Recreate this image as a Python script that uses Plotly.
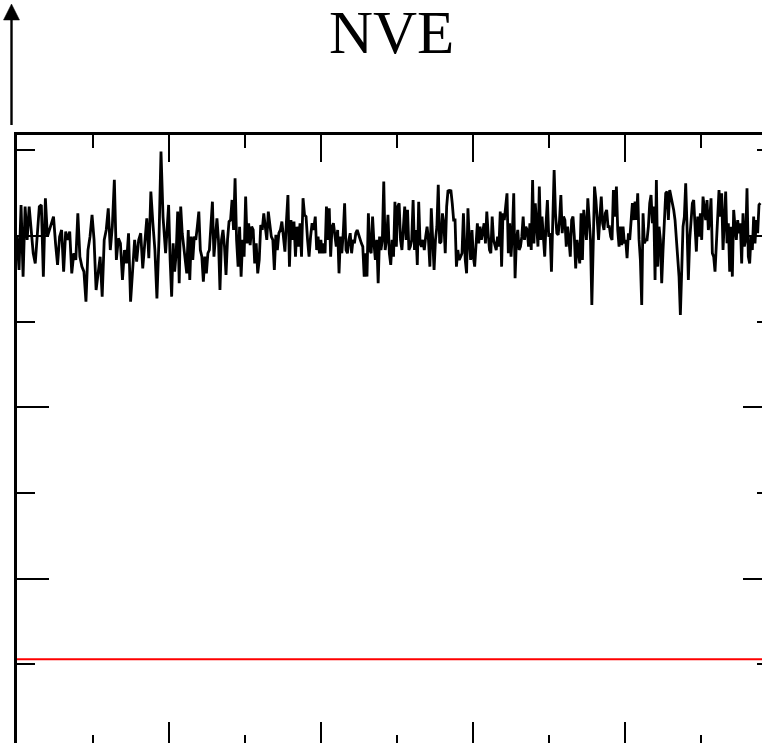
import numpy as np
import plotly.graph_objects as go

# ---- data (energy trace, 5 consecutive time windows) ----
seg_windows = [(0, 960), (977, 1950), (1961, 2935), (2947, 3921), (3932, 4887)]

seg1 = [299.6, 280.2, 318.1, 276.3, 317.1, 297.7, 317.1, 301.6, 289.9, 284.0,
        303.5, 317.1, 318.1, 276.3, 322.0, 299.6, 303.5, 307.4, 311.3, 295.7,
        283.1, 299.6, 303.5, 279.2, 302.5, 297.7, 302.5, 278.2, 289.9, 286.0,
        313.2, 287.9, 282.1, 279.2, 261.7, 291.8, 299.6, 312.3, 297.7, 268.5,
        278.2, 287.9, 264.6, 297.7, 303.5, 316.1, 291.8, 305.4, 332.7, 286.0,
        298.6, 295.7, 274.3, 291.8, 284.0, 301.6, 261.7, 280.2, 297.7, 285.0,
        297.7, 301.6, 281.1, 295.7, 310.3, 287.0, 325.9, 307.4, 291.8, 263.6,
        297.7, 349.2, 311.3]

seg2 = [289.9, 305.4, 318.1, 286.0, 264.6, 295.7, 279.2, 289.9, 314.2, 272.4,
        317.1, 301.6, 293.8, 282.1, 278.2, 303.5, 274.3, 299.6, 286.0, 299.6,
        297.7, 305.4, 314.2, 291.8, 287.9, 273.3, 287.9, 278.2, 289.9, 291.8,
        303.5, 320.0, 287.9, 297.7, 310.3, 297.7, 268.5, 297.7, 303.5, 293.8,
        277.2, 297.7, 308.4, 309.3, 321.0, 303.5, 333.7, 297.7, 282.1, 305.4,
        276.3, 297.7, 287.9, 323.0, 295.7, 307.4, 294.7, 305.4, 303.5, 284.0,
        295.7, 278.2, 286.0, 306.4, 303.5, 313.2, 305.4, 297.7, 314.2, 307.4,
        299.6, 297.7, 280.2, 300.6, 291.8, 301.6, 303.5, 308.4, 299.6, 290.9,
        308.4, 323.9, 282.1, 309.3, 297.7, 308.4, 287.9, 305.4, 293.8, 307.4,
        287.9, 322.0, 312.3, 311.3, 297.7, 287.9, 299.6, 307.4, 303.5]

seg3 = [311.3, 291.8, 299.6, 289.9, 297.7, 289.9, 295.7, 289.9, 317.1, 297.7,
        316.1, 287.9, 305.4, 307.4, 301.6, 293.8, 303.5, 278.2, 299.6, 289.9,
        301.6, 319.1, 291.8, 289.9, 297.7, 301.6, 289.9, 297.7, 295.7, 301.6,
        303.5, 300.6, 297.7, 295.7, 293.8, 276.3, 289.9, 276.3, 313.2, 291.8,
        289.9, 311.3, 295.7, 286.0, 297.7, 272.4, 299.6, 291.8, 297.7, 331.7,
        291.8, 297.7, 312.3, 289.9, 283.1, 297.7, 287.9, 320.0, 293.8, 317.1,
        319.1, 297.7, 291.8, 305.4, 317.1, 297.7, 315.2, 291.8, 293.8, 297.7,
        321.0, 291.8, 303.5, 283.1, 320.0, 295.7, 293.8, 297.7, 291.8, 299.6,
        305.4, 297.7, 282.1, 316.1, 291.8, 280.2, 297.7, 305.4, 329.8, 295.7,
        296.7, 313.2, 307.4, 289.9, 317.1, 326.8, 325.9, 326.8, 319.1, 309.3,
        309.3, 282.1, 291.8, 286.0, 287.9, 289.9, 313.2]

seg4 = [286.0, 278.2, 316.1, 297.7, 286.0, 303.5, 287.9, 282.1, 297.7, 307.4,
        295.7, 305.4, 297.7, 303.5, 307.4, 295.7, 314.2, 301.6, 291.8, 289.9,
        311.3, 297.7, 293.8, 291.8, 299.6, 293.8, 314.2, 282.1, 313.2, 309.3,
        317.1, 324.9, 289.9, 307.4, 287.9, 301.6, 324.9, 275.3, 297.7, 303.5,
        291.8, 293.8, 299.6, 311.3, 297.7, 305.4, 303.5, 293.8, 307.4, 291.8,
        332.7, 295.7, 319.1, 303.5, 293.8, 328.8, 297.7, 311.3, 301.6, 287.9,
        307.4, 321.0, 299.6, 301.6, 279.2, 307.4, 338.5, 313.2, 301.6, 300.6,
        309.3, 323.9, 301.6, 311.3, 309.3, 293.8, 305.4, 297.7, 287.9, 309.3,
        311.3, 299.6, 281.1, 297.7, 289.9, 284.0, 313.2, 286.0, 315.2, 307.4,
        297.7, 322.0, 311.3, 297.7, 259.7, 297.7, 328.8, 321.0, 305.4, 297.7,
        311.3, 323.0, 307.4, 303.5, 313.2, 315.2, 305.4, 305.4, 299.6, 297.7,
        326.8]

seg5 = [311.3, 328.8, 303.5, 293.8, 305.4, 294.7, 305.4, 295.7, 297.7, 287.0,
        301.6, 297.7, 311.3, 319.1, 309.3, 320.0, 309.3, 324.9, 297.7, 286.0,
        259.7, 313.2, 295.7, 297.7, 297.7, 305.4, 319.1, 323.9, 307.4, 317.1,
        274.3, 332.7, 282.1, 305.4, 297.7, 272.4, 291.8, 307.4, 324.9, 325.9,
        309.3, 326.8, 323.0, 317.1, 315.2, 309.3, 297.7, 289.9, 276.3, 253.9,
        287.9, 305.4, 311.3, 330.7, 305.4, 274.3, 297.7, 311.3, 319.1, 321.0,
        305.4, 290.9, 311.3, 299.6, 313.2, 297.7, 323.0, 317.1, 309.3, 321.0,
        303.5, 309.3, 322.0, 289.9, 287.9, 279.2, 295.7, 309.3, 326.8, 311.3,
        324.9, 291.8, 305.4, 325.9, 295.7, 307.4, 279.2, 305.4, 276.3, 315.2,
        305.4, 297.7, 309.3, 301.6, 307.4, 284.0, 313.2, 293.8, 297.7, 327.8,
        287.9, 284.0, 299.6, 291.8, 311.3, 295.7, 309.3, 301.6, 318.1, 319.1]

red_t = [0, 4950]
red_e = [53.0, 53.0]

x_range = [0, 4898]
y_range = [4.2, 358.9]

# ---- build the black series ----
segs = [seg1, seg2, seg3, seg4, seg5]
t_all, e_all = [], []
for (t0, t1), s in zip(seg_windows, segs):
    t_all.extend(np.linspace(t0, t1, len(s)).tolist())
    e_all.extend(s)

fig = go.Figure()
fig.add_trace(go.Scatter(x=t_all, y=e_all, mode="lines",
                         line=dict(color="#000000", width=2.8),
                         showlegend=False, hoverinfo="skip"))
fig.add_trace(go.Scatter(x=red_t, y=red_e, mode="lines",
                         line=dict(color="#ff0000", width=2),
                         xaxis="x2", yaxis="y2",
                         showlegend=False, hoverinfo="skip"))

W, H = 762, 743
L, T = 16.5, 135
pw, ph = W - L, H - T


def px(X):
    return (X - L) / pw


def py(Y):
    return (H - Y) / ph


common = dict(showgrid=False, zeroline=False, showticklabels=False,
              tickcolor="black", tickwidth=2, ticks="inside")

fig.update_layout(
    width=W, height=H,
    margin=dict(l=L, r=0, t=T, b=0, pad=0),
    paper_bgcolor="white", plot_bgcolor="white",
    xaxis=dict(range=x_range, side="bottom", showline=False,
               tickmode="linear", tick0=0, dtick=1000, ticklen=21,
               minor=dict(ticks="inside", tick0=0, dtick=500, ticklen=8,
                          tickwidth=2, tickcolor="black"),
               **common),
    xaxis2=dict(range=x_range, overlaying="x", matches="x", side="top",
                showline=True, linewidth=2.5, linecolor="black",
                tickmode="linear", tick0=0, dtick=1000, ticklen=27,
                minor=dict(ticks="inside", tick0=0, dtick=500, ticklen=13,
                           tickwidth=2, tickcolor="black"),
                **common),
    yaxis=dict(range=y_range, side="left", showline=True, linewidth=2.5,
               linecolor="black", tickmode="linear", tick0=0, dtick=100,
               ticklen=32,
               minor=dict(ticks="inside", tick0=0, dtick=50, ticklen=18,
                          tickwidth=2, tickcolor="black"),
               **common),
    yaxis2=dict(range=y_range, overlaying="y", matches="y", side="right",
                showline=False, tickmode="linear", tick0=0, dtick=100,
                ticklen=19,
                minor=dict(ticks="inside", tick0=0, dtick=50, ticklen=5,
                           tickwidth=2, tickcolor="black"),
                **common),
    annotations=[dict(text="NVE", xref="paper", yref="paper",
                      x=px(391), y=py(32), xanchor="center", yanchor="middle",
                      showarrow=False,
                      font=dict(family="Liberation Serif", size=61,
                                color="black"))],
    shapes=[
        dict(type="line", xref="paper", yref="paper",
             x0=px(11), x1=px(11), y0=py(125), y1=py(18),
             line=dict(color="black", width=2.4)),
        dict(type="path", xref="paper", yref="paper",
             path=f"M {px(11)} {py(4)} L {px(3)} {py(20)} L {px(19)} {py(20)} Z",
             fillcolor="black", line=dict(color="black", width=0.5)),
    ],
)

fig.write_html("out.html")
